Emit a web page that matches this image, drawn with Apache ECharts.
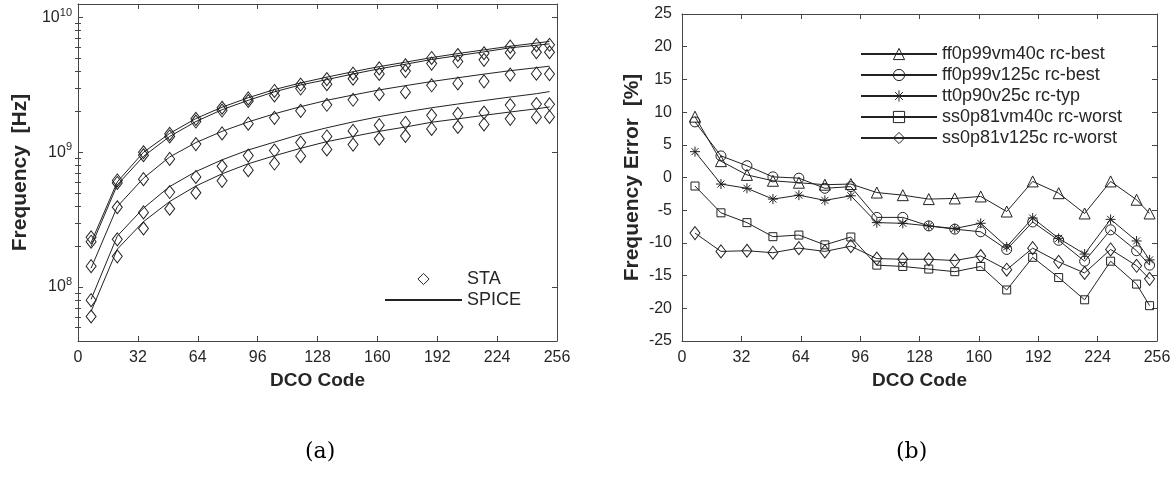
<!DOCTYPE html>
<html lang="en">
<head>
    <meta charset="UTF-8">
    <title>DCO frequency, STA vs SPICE</title>
    <script src="https://cdn.jsdelivr.net/npm/echarts@6/dist/echarts.min.js"></script>
    <style>
        html,body{margin:0;padding:0;background:#fff;}
        #chart{width:1175px;height:484px;}
    </style>
</head>
<body>
<div id="chart"></div>
<script>
    'use strict';
    // DCO codes sampled
    const codes=[7,21,35,49,63,77,91,105,119,133,147,161,175,189,203,217,231,245,252];

    // (a) SPICE frequency [Hz], one array per corner
    const spiceFFm40=[2.14e8,6.03e8,1.00e9,1.38e9,1.78e9,2.16e9,2.54e9,2.92e9,3.27e9,3.61e9,3.96e9,4.32e9,4.66e9,5.04e9,5.40e9,5.75e9,6.12e9,6.46e9,6.64e9];
    const spiceFF125=[2.00e8,5.73e8,9.33e8,1.31e9,1.69e9,2.07e9,2.43e9,2.81e9,3.16e9,3.46e9,3.81e9,4.16e9,4.50e9,4.88e9,5.21e9,5.56e9,5.96e9,6.22e9,6.37e9];
    const spiceTT=[1.38e8,3.95e8,6.43e8,9.23e8,1.18e9,1.43e9,1.68e9,1.93e9,2.18e9,2.43e9,2.66e9,2.90e9,3.12e9,3.35e9,3.57e9,3.80e9,4.03e9,4.24e9,4.35e9];
    const spiceSSm40=[8.11e7,2.39e8,3.85e8,5.57e8,7.19e8,8.79e8,1.04e9,1.19e9,1.36e9,1.52e9,1.68e9,1.84e9,1.99e9,2.14e9,2.28e9,2.42e9,2.57e9,2.72e9,2.82e9];
    const spiceSS125=[6.61e7,1.91e8,3.06e8,4.31e8,5.62e8,6.92e8,8.22e8,9.42e8,1.07e9,1.20e9,1.31e9,1.43e9,1.54e9,1.67e9,1.77e9,1.88e9,1.99e9,2.10e9,2.17e9];

    // (a) STA frequency [Hz]
    const staFFm40=[2.34e8,6.18e8,1.00e9,1.37e9,1.77e9,2.14e9,2.51e9,2.85e9,3.18e9,3.49e9,3.83e9,4.19e9,4.42e9,5.01e9,5.27e9,5.43e9,6.08e9,6.24e9,6.27e9];
    const staFF125=[2.17e8,5.92e8,9.50e8,1.31e9,1.69e9,2.04e9,2.40e9,2.64e9,2.97e9,3.20e9,3.51e9,3.81e9,4.00e9,4.55e9,4.71e9,4.85e9,5.48e9,5.52e9,5.52e9];
    const staTT=[1.43e8,3.91e8,6.32e8,8.93e8,1.15e9,1.38e9,1.63e9,1.80e9,2.03e9,2.25e9,2.45e9,2.70e9,2.79e9,3.14e9,3.24e9,3.36e9,3.77e9,3.83e9,3.80e9];
    const staSSm40=[8.00e7,2.26e8,3.58e8,5.07e8,6.56e8,7.88e8,9.45e8,1.03e9,1.18e9,1.31e9,1.44e9,1.59e9,1.65e9,1.88e9,1.93e9,1.97e9,2.24e9,2.28e9,2.27e9];
    const staSS125=[6.05e7,1.69e8,2.72e8,3.81e8,5.01e8,6.14e8,7.36e8,8.25e8,9.36e8,1.05e9,1.14e9,1.26e9,1.32e9,1.49e9,1.54e9,1.61e9,1.77e9,1.82e9,1.83e9];

    // (b) frequency error [%]
    const errFFm40=[9.3,2.5,0.4,-0.5,-0.8,-1.1,-1.0,-2.3,-2.7,-3.3,-3.2,-2.9,-5.2,-0.6,-2.4,-5.5,-0.6,-3.4,-5.5];
    const errFF125=[8.5,3.3,1.8,0.1,-0.1,-1.65,-1.4,-6.1,-6.1,-7.4,-7.9,-8.3,-11.0,-6.8,-9.6,-12.8,-8.0,-11.2,-13.4];
    const errTT=[3.95,-1.0,-1.65,-3.3,-2.7,-3.5,-2.8,-6.9,-7.0,-7.4,-7.8,-7.0,-10.6,-6.2,-9.3,-11.7,-6.4,-9.7,-12.6];
    const errSSm40=[-1.3,-5.4,-6.9,-9.05,-8.8,-10.3,-9.1,-13.4,-13.6,-14.0,-14.4,-13.6,-17.2,-12.2,-15.3,-18.7,-12.8,-16.3,-19.6];
    const errSS125=[-8.5,-11.3,-11.2,-11.5,-10.8,-11.3,-10.5,-12.4,-12.5,-12.5,-12.7,-12.0,-14.1,-10.8,-12.9,-14.6,-11.0,-13.5,-15.5];

    const cornerNames=['ff0p99vm40c rc-best','ff0p99v125c rc-best','tt0p90v25c rc-typ','ss0p81vm40c rc-worst','ss0p81v125c rc-worst'];
    // log axis minor ticks
    const minorTicks=[5e7,6e7,7e7,8e7,9e7,2e8,3e8,4e8,5e8,6e8,7e8,8e8,9e8,2e9,3e9,4e9,5e9,6e9,7e9,8e9,9e9];

    const ink='#222';
    const axisClr='#454545';
    const txtClr='#262626';
    const starPath='path://M5,0L5,10M0,5L10,5M1.5,1.5L8.5,8.5M8.5,1.5L1.5,8.5';

    function pairs(ys){
        return codes.map(function(c,i){return [c,ys[i]];});
    }

    function frameAxis(grid,pos,extra){
        return Object.assign({
            gridIndex:grid,
            position:pos,
            axisLine:{show:true,onZero:false,lineStyle:{color:axisClr,width:1}},
            axisTick:{show:true,inside:true,length:5,lineStyle:{color:axisClr}},
            axisLabel:{show:false},
            splitLine:{show:false},
            silent:true
        },extra);
    }

    const labelFont={color:txtClr,fontSize:16,fontFamily:'Liberation Sans, Arial, sans-serif'};
    const nameFont={color:txtClr,fontSize:19,fontWeight:'bold',fontFamily:'Liberation Sans, Arial, sans-serif'};
    const yNameFont=Object.assign({},nameFont,{fontSize:21});
    const legendFont={color:txtClr,fontSize:18,fontFamily:'Liberation Sans, Arial, sans-serif'};

    const logMin=3.98e7, logMax=1.259e10;

    const chart=echarts.init(document.getElementById('chart'),null,{renderer:'canvas'});

    const xCommon={type:'value',min:0,max:256,interval:32};

    const option={
        animation:false,
        backgroundColor:'#fff',
        title:[
            {text:'(a)',left:300,top:436,textStyle:{fontFamily:'DejaVu Serif',fontSize:22,fontWeight:'normal',color:'#000'}},
            {text:'(b)',left:891,top:436,textStyle:{fontFamily:'DejaVu Serif',fontSize:22,fontWeight:'normal',color:'#000'}}
        ],
        grid:[
            {left:78,top:4,width:479,height:337},
            {left:682,top:14,width:475,height:327}
        ],
        legend:[
            {
                orient:'vertical',left:384,top:270,padding:0,itemWidth:77,itemHeight:14,itemGap:3,
                textStyle:legendFont,
                itemStyle:{borderWidth:1},
                selectedMode:false,
                data:[
                    {name:'STA',lineStyle:{opacity:0}},
                    {name:'SPICE',itemStyle:{opacity:0}}
                ]
            },
            {
                orient:'vertical',left:860,top:45,padding:0,itemWidth:76,itemHeight:14,itemGap:3,
                textStyle:legendFont,
                itemStyle:{borderWidth:1},
                selectedMode:false,
                data:cornerNames
            }
        ],
        xAxis:[
            frameAxis(0,'bottom',Object.assign({},xCommon,{
                name:'DCO Code',nameLocation:'middle',nameGap:28,nameTextStyle:nameFont,
                axisLabel:Object.assign({show:true,margin:9},labelFont)
            })),
            frameAxis(1,'bottom',Object.assign({},xCommon,{
                name:'DCO Code',nameLocation:'middle',nameGap:28,nameTextStyle:nameFont,
                axisLabel:Object.assign({show:true,margin:9},labelFont)
            })),
            frameAxis(0,'top',Object.assign({},xCommon)),
            frameAxis(1,'top',Object.assign({},xCommon))
        ],
        yAxis:[
            frameAxis(0,'left',{
                type:'log',logBase:10,min:logMin,max:logMax,
                name:'Frequency  [Hz]',nameLocation:'middle',nameGap:47,nameTextStyle:yNameFont,
                axisLabel:Object.assign({
                    show:true,margin:6,showMinLabel:false,showMaxLabel:false,
                    formatter:function(v){
                        const e=Math.log10(v);
                        if(Math.abs(e-Math.round(e))>1e-6){return '';}
                        return '{b|10}{s|'+Math.round(e)+'}';
                    },
                    rich:{
                        b:{fontSize:16,color:txtClr,fontFamily:'Liberation Sans, Arial, sans-serif'},
                        s:{fontSize:11,color:txtClr,fontFamily:'Liberation Sans, Arial, sans-serif',padding:[0,0,10,0]}
                    }
                },labelFont)
            }),
            frameAxis(1,'left',{
                type:'value',min:-25,max:25,interval:5,
                name:'Frequency Error  [%]',nameLocation:'middle',nameGap:39,nameTextStyle:yNameFont,
                axisLabel:Object.assign({show:true,margin:10},labelFont)
            }),
            frameAxis(0,'right',{type:'log',logBase:10,min:logMin,max:logMax}),
            frameAxis(0,'left',{type:'log',logBase:10,min:logMin,max:logMax,
                axisLine:{show:false},
                axisTick:{show:true,inside:true,length:3,customValues:minorTicks,lineStyle:{color:axisClr}}}),
            frameAxis(0,'right',{type:'log',logBase:10,min:logMin,max:logMax,
                axisLine:{show:false},
                axisTick:{show:true,inside:true,length:3,customValues:minorTicks,lineStyle:{color:axisClr}}}),
            frameAxis(1,'right',{type:'value',min:-25,max:25,interval:5})
        ],
        series:[]
    };

    // (a) SPICE lines
    [spiceFFm40,spiceFF125,spiceTT,spiceSSm40,spiceSS125].forEach(function(ys){
        option.series.push({
            name:'SPICE',type:'line',xAxisIndex:0,yAxisIndex:0,
            data:pairs(ys),symbol:'none',smooth:false,silent:true,
            itemStyle:{color:ink},
            lineStyle:{color:ink,width:1}
        });
    });
    // (a) STA markers
    [staFFm40,staFF125,staTT,staSSm40,staSS125].forEach(function(ys){
        option.series.push({
            name:'STA',type:'line',xAxisIndex:0,yAxisIndex:0,
            data:pairs(ys),symbol:'diamond',symbolSize:[10,13],showSymbol:true,silent:true,
            itemStyle:{color:'rgba(255,255,255,0)',borderColor:ink,borderWidth:1},
            lineStyle:{opacity:0}
        });
    });
    // (b) error curves
    const errSets=[errFFm40,errFF125,errTT,errSSm40,errSS125];
    const marks=[['triangle',11],['circle',10],[starPath,10],['rect',8],['diamond',[10,13]]];
    errSets.forEach(function(ys,i){
        option.series.push({
            name:cornerNames[i],type:'line',xAxisIndex:1,yAxisIndex:1,
            data:pairs(ys),symbol:marks[i][0],symbolSize:marks[i][1],showSymbol:true,silent:true,
            itemStyle:{color:'rgba(255,255,255,0)',borderColor:ink,borderWidth:1},
            lineStyle:{color:ink,width:1}
        });
    });

    chart.setOption(option);
</script>
</body>
</html>
